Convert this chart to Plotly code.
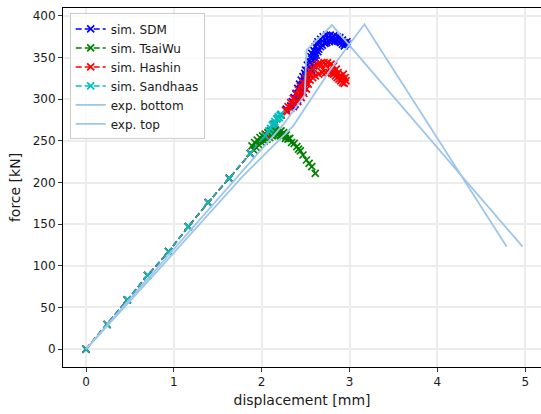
import plotly.graph_objects as go

# ---------------- data ----------------
lin_x = [0.0, 0.24, 0.47, 0.70, 0.94, 1.165, 1.39, 1.63, 1.87]
lin_y = [0.0, 29.5, 59.0, 88.5, 117.0, 147.0, 176.0, 205.0, 235.0]

# SDM: outer and inner edges of the dense band, interleaved below
sdm_outer_x = [2.33, 2.35, 2.37, 2.39, 2.41, 2.43, 2.45, 2.47, 2.49, 2.50, 2.52, 2.54, 2.56, 2.57,
               2.59, 2.61, 2.63, 2.64, 2.67, 2.70, 2.74, 2.78, 2.82, 2.86, 2.89, 2.92, 2.94, 2.95]
sdm_outer_y = [292, 297, 302, 307, 313, 318, 323, 327, 331, 335, 341, 346, 351, 355,
               359, 363, 366, 369, 372, 375, 377, 377, 376, 375, 374, 371, 368, 366]
sdm_inner_x = [2.36, 2.38, 2.41, 2.44, 2.47, 2.49, 2.51, 2.53, 2.55, 2.57, 2.59, 2.60, 2.61, 2.62,
               2.64, 2.65, 2.67, 2.69, 2.72, 2.74, 2.77, 2.80, 2.83, 2.86, 2.88, 2.90, 2.92, 2.94]
sdm_inner_y = [291, 294, 299, 303, 309, 314, 320, 325, 330, 335, 340, 345, 349, 353,
               357, 360, 363, 365, 367, 368, 369, 370, 370, 370, 369, 368, 366, 364]
sdm_head_x = [2.05, 2.15, 2.22, 2.28]
sdm_head_y = [257, 270, 281, 288]
sdm_tail_x = [2.97, 2.98]
sdm_tail_y = [369, 366]

hashin_outer_x = [2.27, 2.30, 2.33, 2.36, 2.39, 2.42, 2.44, 2.47, 2.50, 2.53, 2.55, 2.58,
                  2.61, 2.64, 2.67, 2.71, 2.75, 2.79, 2.82, 2.85, 2.87, 2.89, 2.91]
hashin_outer_y = [287, 291, 296, 301, 306, 311, 315, 320, 325, 330, 334, 337,
                  340, 342, 343, 344, 344, 342, 340, 336, 332, 328, 324]
hashin_inner_x = [2.29, 2.33, 2.37, 2.41, 2.45, 2.48, 2.51, 2.53, 2.55, 2.58, 2.61, 2.65,
                  2.69, 2.73, 2.77, 2.80, 2.82, 2.84, 2.86, 2.88, 2.90, 2.92, 2.94]
hashin_inner_y = [285, 289, 293, 297, 302, 307, 312, 318, 323, 326, 328, 330,
                  332, 332, 332, 331, 330, 328, 326, 324, 322, 320, 319]
hashin_head_x = [2.05, 2.15, 2.22]
hashin_head_y = [257, 270, 281]
hashin_tail_x = [2.93, 2.95, 2.96]
hashin_tail_y = [330, 326, 322]

tsaiwu_outer_x = [1.89, 1.92, 1.95, 1.98, 2.01, 2.04, 2.07, 2.10, 2.13, 2.16, 2.19, 2.22, 2.25]
tsaiwu_outer_y = [244, 248, 251, 254, 256, 258, 260, 262, 263, 263, 263, 262, 260]
tsaiwu_inner_x = [1.91, 1.94, 1.97, 2.00, 2.03, 2.06, 2.09, 2.12, 2.15, 2.18, 2.21, 2.24, 2.27]
tsaiwu_inner_y = [239, 242, 245, 248, 250, 252, 254, 256, 257, 257, 256, 255, 253]
tsaiwu_tail_x = [2.28, 2.30, 2.32, 2.34, 2.37, 2.40, 2.42, 2.44, 2.47, 2.51, 2.54, 2.57, 2.61]
tsaiwu_tail_y = [257, 252, 253, 248, 247, 243, 240, 238, 233, 227, 223, 219, 211]

sandhaas_x = lin_x + [2.04, 2.08, 2.10, 2.12, 2.13, 2.15, 2.15, 2.17, 2.18, 2.19, 2.20, 2.21, 2.22]
sandhaas_y = lin_y + [256, 262, 265, 269, 270, 273, 271, 276, 277, 279, 278, 281, 282]

exp_bottom_x = [0.0, 0.80, 1.70, 2.25, 2.49, 2.51, 2.80, 4.97]
exp_bottom_y = [0.0, 96.0, 205.0, 270.0, 305.0, 359.0, 389.0, 123.0]

exp_top_x = [0.0, 0.84, 1.78, 2.36, 2.78, 3.17, 4.79]
exp_top_y = [0.0, 97.0, 207.0, 268.0, 335.0, 390.0, 123.0]

x_ticks = [0, 1, 2, 3, 4, 5]
y_ticks = [0, 50, 100, 150, 200, 250, 300, 350, 400]


def interleave(ax, ay, bx, by):
    xs, ys = [], []
    for a1, a2, b1, b2 in zip(ax, ay, bx, by):
        xs += [a1, b1]
        ys += [a2, b2]
    return xs, ys


bx, by = interleave(sdm_outer_x, sdm_outer_y, sdm_inner_x, sdm_inner_y)
sdm_x = lin_x + sdm_head_x + bx + sdm_tail_x
sdm_y = lin_y + sdm_head_y + by + sdm_tail_y

bx, by = interleave(hashin_outer_x, hashin_outer_y, hashin_inner_x, hashin_inner_y)
hashin_x = lin_x + hashin_head_x + bx + hashin_tail_x
hashin_y = lin_y + hashin_head_y + by + hashin_tail_y

bx, by = interleave(tsaiwu_outer_x, tsaiwu_outer_y, tsaiwu_inner_x, tsaiwu_inner_y)
tsaiwu_x = lin_x + bx + tsaiwu_tail_x
tsaiwu_y = lin_y + by + tsaiwu_tail_y

# ---------------- figure ----------------
fig = go.Figure()

sims = [
    ("sim. SDM", sdm_x, sdm_y, "#0000ff"),
    ("sim. TsaiWu", tsaiwu_x, tsaiwu_y, "#008000"),
    ("sim. Hashin", hashin_x, hashin_y, "#ff0000"),
    ("sim. Sandhaas", sandhaas_x, sandhaas_y, "#00bfbf"),
]
for name, xs, ys, col in sims:
    fig.add_trace(go.Scatter(
        x=xs, y=ys, name=name, mode="lines+markers",
        line=dict(color=col, width=1.5, dash="6px,3px"),
        marker=dict(symbol="x-thin", size=7, color=col,
                    line=dict(color=col, width=1.7)),
    ))

exp_col = "#9dc6ea"
fig.add_trace(go.Scatter(x=exp_bottom_x, y=exp_bottom_y, name="exp. bottom",
                         mode="lines", line=dict(color=exp_col, width=1.8)))
fig.add_trace(go.Scatter(x=exp_top_x, y=exp_top_y, name="exp. top",
                         mode="lines", line=dict(color=exp_col, width=1.8)))

axis_common = dict(
    showline=True, linecolor="#000000", linewidth=1, mirror=True,
    ticks="outside", ticklen=4, tickwidth=1, tickcolor="#333333",
    showgrid=True, gridcolor="#ececec", gridwidth=1.5,
    zeroline=False,
    tickfont=dict(family="DejaVu Sans", size=12, color="#1a1a1a"),
)

fig.update_layout(
    width=541, height=414,
    margin=dict(l=63, r=0, t=8, b=47),
    plot_bgcolor="#ffffff", paper_bgcolor="#ffffff",
    font=dict(family="DejaVu Sans", size=12, color="#1a1a1a"),
    xaxis=dict(range=[-0.262, 5.18], tickvals=x_ticks,
               title=dict(text="displacement [mm]", standoff=6), **axis_common),
    yaxis=dict(range=[-21.5, 409.5], tickvals=y_ticks,
               title=dict(text="force [kN]", standoff=8), **axis_common),
    legend=dict(x=0.014, y=0.985, xanchor="left", yanchor="top",
                bgcolor="rgba(255,255,255,0.85)", bordercolor="#cccccc",
                borderwidth=1, font=dict(size=12), itemwidth=30,
                tracegroupgap=0),
    showlegend=True,
)

fig.write_html("out.html")
